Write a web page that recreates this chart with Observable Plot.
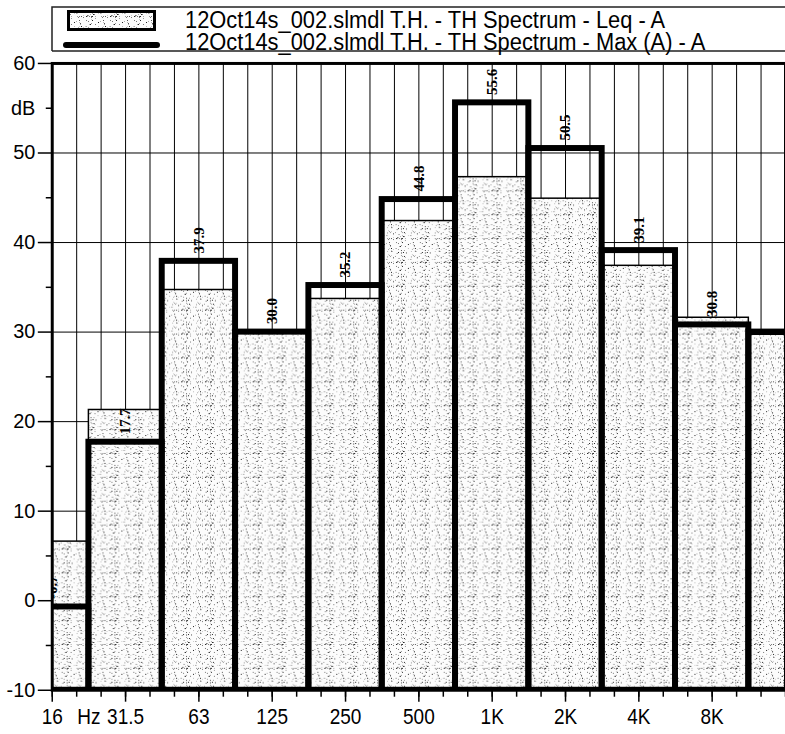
<!DOCTYPE html>
<html>
<head>
<meta charset="utf-8">
<script src="https://cdn.jsdelivr.net/npm/d3@7"></script>
<script src="https://cdn.jsdelivr.net/npm/@observablehq/plot@0.6"></script>
<style>
  html, body { margin: 0; padding: 0; background: #fff; width: 785px; height: 734px; overflow: hidden; }
  #legend { display: block; }
  #chart svg { display: block; }
</style>
</head>
<body>
<svg id="legend" width="785" height="55"></svg>
<div id="chart"></div>
<script>
// ---------- data ----------
const bandCenters = [15.625, 31.25, 62.5, 125, 250, 500, 1000, 2000, 4000, 8000, 16000];
const bandLabels  = ["16", "31.5", "63", "125", "250", "500", "1K", "2K", "4K", "8K", ""];
const leqValues   = [6.6, 21.3, 34.7, 29.8, 33.7, 42.4, 47.3, 44.9, 37.4, 31.6, 29.7];
const maxValues   = [-0.7, 17.7, 37.9, 30.0, 35.2, 44.8, 55.6, 50.5, 39.1, 30.8, 30.0];
const seriesNames = [
  "12Oct14s_002.slmdl T.H. - TH Spectrum - Leq - A",
  "12Oct14s_002.slmdl T.H. - TH Spectrum - Max (A) - A"
];
const yTicks      = [-10, 0, 10, 20, 30, 40, 50, 60];
const yMinorTicks = [-5, 5, 15, 25, 35, 45, 55];
const yUnit = "dB";
const yUnitAt = 55;
const xUnit = "Hz";

// ---------- derived tables ----------
const yMin = yTicks[0], yMax = yTicks[yTicks.length - 1];
const bands = bandCenters.map((c, i) => ({
  c, lo: c / Math.SQRT2, hi: c * Math.SQRT2,
  leq: leqValues[i], max: maxValues[i], label: bandLabels[i]
}));
const labelledBands = bands.filter(b => b.label !== "");
const thirdOctaves = d3.range(0, 3 * (bandCenters.length - 1) + 1).map(k => bandCenters[0] * Math.pow(2, k / 3));
const xUnitAt = Math.sqrt(bandCenters[0] * bandCenters[1]);

const sans = "'Liberation Sans', Arial, Helvetica, sans-serif";
const serif = "'Liberation Serif', 'Times New Roman', serif";

function condense(sel, f) {
  sel.each(function () {
    const L = this.getComputedTextLength();
    if (L > 0) {
      this.setAttribute("textLength", (L * f).toFixed(2));
      this.setAttribute("lengthAdjust", "spacingAndGlyphs");
    }
  });
}

// ---------- legend (with stipple pattern definition) ----------
const leg = d3.select("#legend");
const defs = leg.append("defs");
const pat = defs.append("pattern").attr("id", "stip").attr("patternUnits", "userSpaceOnUse")
  .attr("width", 24).attr("height", 24);
pat.append("rect").attr("width", 24).attr("height", 24).attr("fill", "#fcfcfc");
let s = 12345;
const rnd = () => { s = (s * 1103515245 + 12345) & 0x7fffffff; return s / 0x7fffffff; };
const greys = ["#222", "#555", "#777", "#999", "#aaa", "#bbb", "#ccc"];
for (let k = 0; k < 80; k++) {
  pat.append("rect").attr("x", Math.floor(rnd() * 24)).attr("y", Math.floor(rnd() * 24))
    .attr("width", 1).attr("height", 1).attr("fill", greys[Math.floor(rnd() * greys.length)]);
}
leg.append("path").attr("d", "M52,51V7H790M52,51H790").attr("fill", "none").attr("stroke", "#222").attr("stroke-width", 1.5);
leg.append("rect").attr("x", 68.5).attr("y", 11.5).attr("width", 86).attr("height", 18)
  .attr("fill", "url(#stip)").attr("stroke", "#000").attr("stroke-width", 3);
leg.append("line").attr("x1", 66).attr("x2", 157).attr("y1", 45).attr("y2", 45)
  .attr("stroke", "#000").attr("stroke-width", 6).attr("stroke-linecap", "round");
const legTexts = leg.selectAll("text.series").data(seriesNames).join("text")
  .attr("class", "series")
  .attr("x", 185).attr("y", (d, i) => 28 + i * 22)
  .attr("font-family", sans).attr("font-size", 23.5).attr("fill", "#000")
  .text(d => d);
condense(legTexts, 0.93);

// ---------- chart ----------
const chart = Plot.plot({
  width: 789,
  height: 679,
  marginLeft: 52,
  marginRight: 0,
  marginTop: 8,
  marginBottom: 41,
  style: { fontFamily: sans, background: "transparent", color: "#000", overflow: "visible" },
  x: { type: "log", domain: [bandCenters[0], bandCenters[bandCenters.length - 1]] },
  y: { domain: [yMin, yMax] },
  marks: [
    Plot.ruleX(thirdOctaves, { stroke: "#000", strokeWidth: 1 }),
    Plot.ruleY(yTicks, { stroke: "#000", strokeWidth: 1 }),
    Plot.rect(bands, { x1: "lo", x2: "hi", y1: () => yMin, y2: "leq", fill: "url(#stip)", stroke: "#000", strokeWidth: 1.5, clip: true }),
    Plot.rect(bands, { x1: "lo", x2: "hi", y1: () => yMin, y2: "max", fill: "none", stroke: "#000", strokeWidth: 6, clip: true }),
    Plot.text(labelledBands, { x: "c", y: "max", text: d => d.max.toFixed(1), rotate: -90, textAnchor: "start", dy: -8,
      fontFamily: serif, fontWeight: "bold", fontSize: 15, fill: "#000", clip: true }),
    Plot.axisY(yTicks, { tickSize: 14, tickPadding: 3, fontSize: 20, tickFormat: d => String(d), strokeWidth: 1.5 }),
    Plot.axisY(yMinorTicks, { tickSize: 6, tickPadding: 11, fontSize: 20, tickFormat: d => d === yUnitAt ? yUnit : "", strokeWidth: 1.5 }),
    Plot.axisX(labelledBands.map(b => b.c), { tickSize: 12, tickFormat: () => "", strokeWidth: 1.5 }),
    Plot.axisX(thirdOctaves, { tickSize: 7, tickFormat: () => "", strokeWidth: 1.5 }),
    Plot.text(labelledBands, { x: "c", y: () => yMin, text: "label", lineAnchor: "top", dy: 18, fontSize: 22.5, fill: "#000" }),
    Plot.text([xUnitAt], { x: d => d, y: () => yMin, text: () => xUnit, lineAnchor: "top", dy: 18, fontSize: 22.5, fill: "#000" }),
    Plot.frame({ stroke: "#000", strokeWidth: 3 })
  ]
});
document.getElementById("chart").append(chart);
condense(d3.select(chart).selectAll('g[font-size="22.5"] text'), 0.85);
</script>
</body>
</html>
